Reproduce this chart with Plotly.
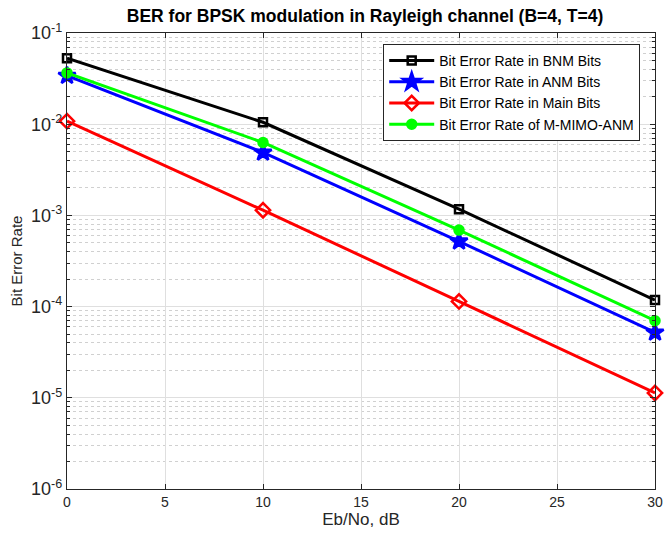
import plotly.graph_objects as go

ebno = [0, 10, 20, 30]
ber_bnm = [0.053, 0.0105, 0.00117, 0.000118]
ber_anm = [0.034, 0.0049, 0.00052, 0.000052]
ber_main = [0.0108, 0.00114, 0.000114, 0.0000113]
ber_mimo = [0.0365, 0.0063, 0.00069, 0.000070]

series = [
    ("Bit Error Rate in BNM Bits", ber_bnm, "black", "square-open", 8),
    ("Bit Error Rate in ANM Bits", ber_anm, "blue", "star", 13),
    ("Bit Error Rate in Main Bits", ber_main, "red", "diamond-open", 11),
    ("Bit Error Rate of M-MIMO-ANM", ber_mimo, "#00ff00", "circle", 9),
]

ytick_vals = [1e-6, 1e-5, 1e-4, 1e-3, 1e-2, 1e-1]
ytick_text = ["10<sup>-6</sup>", "10<sup>-5</sup>", "10<sup>-4</sup>",
              "10<sup>-3</sup>", "10<sup>-2</sup>", "10<sup>-1</sup>"]
minor_vals = [m * 10.0 ** e for e in range(-6, -1) for m in range(2, 10)]

fig = go.Figure()
for name, y, col, sym, sz in series:
    fig.add_trace(go.Scatter(
        x=ebno, y=y, name=name, mode="lines+markers", cliponaxis=False,
        line=dict(color=col, width=3),
        marker=dict(symbol=sym, size=sz, color=col,
                    line=dict(color=col, width=2.5)),
    ))

font = "Liberation Sans, Arial, sans-serif"
fig.update_layout(
    width=670, height=542,
    margin=dict(l=67, r=7, t=33, b=53),
    paper_bgcolor="white", plot_bgcolor="white",
    font=dict(family=font, size=13.5, color="#262626"),
    title=dict(text="<b>BER for BPSK modulation in Rayleigh channel (B=4, T=4)</b>",
               x=(67 + 663) / 2 / 670, xanchor="center", y=1 - 16 / 542, yanchor="middle",
               font=dict(size=17.5, color="black")),
    legend=dict(x=(648 - 67) / 596, xanchor="right", y=(489 - 44) / 456, yanchor="top",
                bordercolor="#262626", borderwidth=1, bgcolor="white",
                font=dict(size=14, color="black"), itemwidth=45,
                tracegroupgap=0),
    showlegend=True,
)
fig.update_xaxes(
    range=[0, 30], tickvals=[0, 5, 10, 15, 20, 25, 30], ticklabeloverflow="allow",
    tickfont=dict(size=14),
    ticks="inside", ticklen=5, tickcolor="#262626",
    showline=True, linecolor="#262626", linewidth=1.2, mirror="ticks",
    showgrid=True, gridcolor="#dfdfdf", gridwidth=1, zeroline=False,
    title=dict(text="Eb/No, dB", font=dict(size=17, color="#262626"), standoff=4),
)
fig.update_yaxes(
    type="log", range=[-6, -1], tickvals=ytick_vals, ticktext=ytick_text,
    ticklabeloverflow="allow", tickfont=dict(size=18),
    ticks="inside", ticklen=5, tickcolor="#262626",
    showline=True, linecolor="#262626", linewidth=1.2, mirror="ticks",
    showgrid=True, gridcolor="#dfdfdf", gridwidth=1, zeroline=False,
    minor=dict(tickvals=minor_vals, ticks="inside", ticklen=3, tickcolor="#262626",
               showgrid=True, gridcolor="#d0d0d0", griddash="dot", gridwidth=1),
    title=dict(text="Bit Error Rate", font=dict(size=15, color="#262626"), standoff=4),
)
fig.write_html("out.html")
